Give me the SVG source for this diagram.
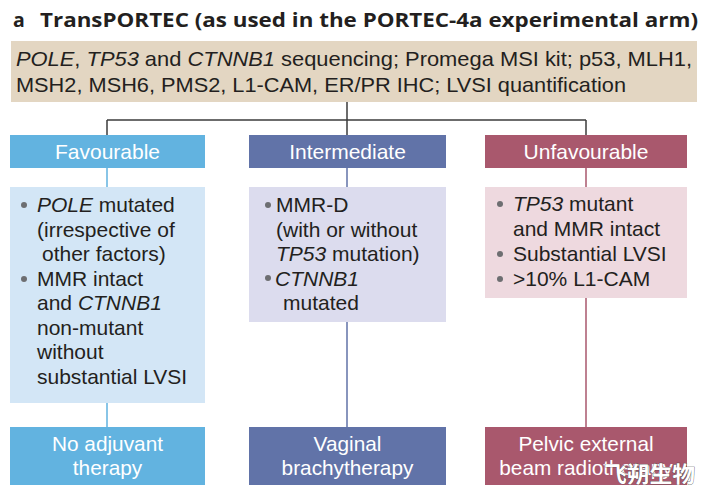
<svg xmlns="http://www.w3.org/2000/svg" width="708" height="501" viewBox="0 0 708 501">
<style>
.title{font-family:"Open Sans","Liberation Sans",sans-serif;font-weight:bold;font-size:19.5px;fill:#231f20}
.top{font-family:"Liberation Sans",Arial,sans-serif;font-size:21px;fill:#231f20}
.hd{font-family:"Liberation Sans",Arial,sans-serif;font-size:21px;fill:#ffffff;text-anchor:middle}
.bd{font-family:"Liberation Sans",Arial,sans-serif;font-size:21px;fill:#231f20}
.ft{font-family:"Liberation Sans",Arial,sans-serif;font-size:20.8px;fill:#ffffff;text-anchor:middle}
.bul{fill:#6d6e71}
.it{font-style:italic}
.wm{font-family:"Noto Sans CJK SC",sans-serif;font-size:22px;font-weight:bold;fill:#ffffff;stroke:#444;stroke-width:0.7;paint-order:stroke}
</style>
<rect width="708" height="501" fill="#ffffff"/>
<g id="title">
<text class="title" x="13" y="27" font-size="21px">a</text>
<text class="title" x="40" y="27" textLength="658" lengthAdjust="spacingAndGlyphs">TransPORTEC (as used in the PORTEC-4a experimental arm)</text>
</g>
<g id="tests">
<rect x="11" y="41" width="686" height="61" fill="#e3d6c2"/>
<text class="top" x="16" y="66" textLength="676" lengthAdjust="spacingAndGlyphs"><tspan class="it">POLE</tspan>, <tspan class="it">TP53</tspan> and <tspan class="it">CTNNB1</tspan> sequencing; Promega MSI kit; p53, MLH1,</text>
<text class="top" x="16" y="92" textLength="610" lengthAdjust="spacingAndGlyphs">MSH2, MSH6, PMS2, L1-CAM, ER/PR IHC; LVSI quantification</text>
</g>
<g id="connectors" fill="none" stroke-width="1.5">
<path d="M347 102V120M107 120H586M107 120V135M347 120V135M586 120V135" stroke="#3c3c3c"/>
<path d="M107 168V187M107 403V427" stroke="#62b3e0"/>
<path d="M347 168V187M347 322V427" stroke="#6173a8"/>
<path d="M586 168V187M586 298V427" stroke="#a9586d"/>
</g>
<g id="favourable">
<rect x="10" y="135" width="195" height="33" fill="#62b3e0"/>
<text class="hd" x="107.5" y="159">Favourable</text>
</g>
<g id="intermediate">
<rect x="249" y="135" width="197" height="33" fill="#6173a8"/>
<text class="hd" x="347.5" y="159">Intermediate</text>
</g>
<g id="unfavourable">
<rect x="485" y="135" width="202" height="33" fill="#a9586d"/>
<text class="hd" x="586" y="159">Unfavourable</text>
</g>
<g id="favourable-criteria">
<rect x="10" y="187" width="195" height="216" fill="#d3e6f6"/>
<circle class="bul" cx="24" cy="205" r="3"/>
<circle class="bul" cx="24" cy="279" r="3"/>
<text class="bd" x="37" y="212"><tspan class="it">POLE</tspan> mutated</text>
<text class="bd" x="37" y="236.5">(irrespective of</text>
<text class="bd" x="42" y="261">other factors)</text>
<text class="bd" x="37" y="285.5">MMR intact</text>
<text class="bd" x="37" y="310">and <tspan class="it">CTNNB1</tspan></text>
<text class="bd" x="37" y="334.5">non-mutant</text>
<text class="bd" x="37" y="359">without</text>
<text class="bd" x="37" y="384">substantial LVSI</text>
</g>
<g id="intermediate-criteria">
<rect x="249" y="187" width="197" height="135" fill="#dcdcee"/>
<circle class="bul" cx="268" cy="205" r="3"/>
<circle class="bul" cx="268" cy="278" r="3"/>
<text class="bd" x="276" y="212">MMR-D</text>
<text class="bd" x="276" y="236.5">(with or without</text>
<text class="bd" x="276" y="261"><tspan class="it">TP53</tspan> mutation)</text>
<text class="bd" x="275" y="285.5" font-style="italic">CTNNB1</text>
<text class="bd" x="283" y="310">mutated</text>
</g>
<g id="unfavourable-criteria">
<rect x="485" y="187" width="202" height="111" fill="#eed9df"/>
<circle class="bul" cx="500" cy="204" r="3"/>
<circle class="bul" cx="500" cy="254" r="3"/>
<circle class="bul" cx="500" cy="279" r="3"/>
<text class="bd" x="513" y="211"><tspan class="it">TP53</tspan> mutant</text>
<text class="bd" x="513" y="235.5">and MMR intact</text>
<text class="bd" x="513" y="260.5">Substantial LVSI</text>
<text class="bd" x="513" y="285.5">&gt;10% L1-CAM</text>
</g>
<g id="no-adjuvant">
<rect x="10" y="427" width="195" height="58" fill="#62b3e0"/>
<text class="ft" x="107.5" y="450.5">No adjuvant</text>
<text class="ft" x="107.5" y="475">therapy</text>
</g>
<g id="vaginal">
<rect x="249" y="427" width="197" height="58" fill="#6173a8"/>
<text class="ft" x="347.5" y="450.5">Vaginal</text>
<text class="ft" x="347.5" y="475">brachytherapy</text>
</g>
<g id="pelvic">
<rect x="485" y="427" width="202" height="58" fill="#a9586d"/>
<text class="ft" x="586" y="450.5">Pelvic external</text>
<text class="ft" x="586" y="475">beam radiotherapy</text>
</g>
<text class="wm" x="604" y="482" textLength="91" lengthAdjust="spacingAndGlyphs">飞朔生物</text>
</svg>
